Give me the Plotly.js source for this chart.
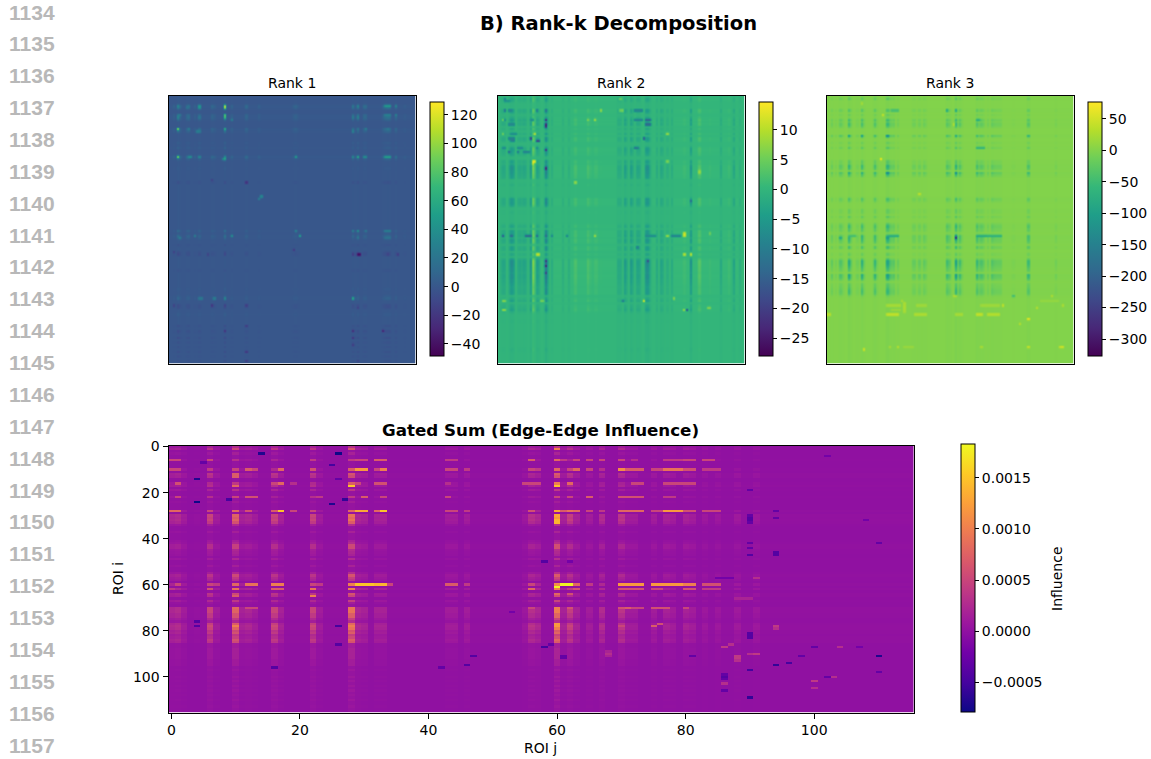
<!DOCTYPE html>
<html>
<head>
<meta charset="utf-8">
<script src="https://cdn.plot.ly/plotly-3.0.1.min.js"></script>
<style>html,body{margin:0;padding:0;background:#fff}</style>
</head>
<body>
<div id="chart" style="width:1151px;height:759px"></div>
<script>
// ---------- values ----------
const gutterLabels = ["1134","1135","1136","1137","1138","1139","1140","1141","1142","1143","1144","1145","1146","1147","1148","1149","1150","1151","1152","1153","1154","1155","1156","1157"];
const figureTitle = "B) Rank-k Decomposition";
const panelTitles = ["Rank 1","Rank 2","Rank 3"];
const gatedTitle = "Gated Sum (Edge-Edge Influence)";
const colorbarTitle = "Influence";
const matrixSize = 116;

// Stripe strengths as [index, strength]; cells as [row, firstCol, lastCol, value]
const rank1Rows = [[1,.1],[4,.9],[5,.7],[8,.6],[9,.7],[10,.35],[14,.7],[15,.4],[20,.15],[22,.2],[26,1],[27,.4],[31,.08],[37,-.15],[58,.4],[60,.45],[61,.3],[64,-.1],[67,-.15],[68,-.25],[75,-.08],[83,.1],[86,.12],[87,.3],[90,-.2],[91,-.15],[94,.12],[99,-.15],[101,-.2],[102,-.1],[104,-.2],[106,-.12],[108,-.1],[110,-.15],[112,-.1],[114,-.15]];
const rank1Cols = [[2,.15],[4,.7],[5,.3],[8,.3],[9,.4],[12,.15],[14,.4],[20,.25],[21,.15],[26,.8],[29,.2],[36,.3],[42,.15],[58,.15],[59,.2],[60,.1],[86,.5],[88,.6],[91,.3],[92,.3],[100,.2],[101,.4],[102,.5],[103,.4],[106,.35],[110,.1]];
const rank1Cells = [[4,26,26,125],[5,26,26,118],[14,4,4,115],[26,4,4,110],[8,26,26,85],[9,26,26,85],[14,26,26,70],[27,26,26,60],[27,25,25,35],[4,14,14,55],[5,14,14,50],[26,88,88,65],[26,86,86,40],[26,91,92,40],[26,101,103,55],[4,101,103,50],[4,88,88,35],[4,86,86,25],[4,106,106,35],[9,88,88,35],[9,86,86,30],[8,101,103,30],[8,106,106,32],[15,86,86,35],[14,92,92,30],[14,102,102,25],[26,59,59,55],[60,61,61,60],[58,59,59,35],[60,29,29,45],[61,5,5,30],[60,12,12,30],[87,86,86,70],[87,26,26,40],[87,21,21,35],[87,14,15,25],[58,88,88,45],[58,86,86,30],[58,92,92,25],[58,101,103,30],[61,88,88,25],[61,101,103,20],[43,43,43,45],[44,42,42,30],[26,9,10,40],[26,14,14,40],[14,9,9,30],[15,13,14,30],[9,4,4,35],[8,5,5,25],[9,14,14,25],[10,29,29,30],[5,4,4,25],[5,8,8,20],[68,88,89,-48],[68,86,86,-20],[37,36,36,-30],[90,36,36,-20],[90,20,20,-25],[90,26,26,-15],[90,2,2,-15],[101,26,26,-25],[101,86,86,-30],[101,100,100,-35],[104,86,86,-25],[107,86,86,-20],[99,36,36,-20],[110,36,36,-25],[114,36,36,-20],[68,18,18,-15],[67,2,2,-15],[66,58,58,-20],[91,88,88,-15],[68,107,107,-20],[68,102,102,-15],[36,20,20,-15],[114,88,88,-15]];

const rank2Rows = [[0,.15],[1,.35],[2,.3],[6,.6],[7,.35],[9,.3],[10,.65],[11,.45],[12,.6],[14,.35],[16,.45],[18,.6],[19,.45],[22,.5],[23,.6],[24,.5],[25,.4],[28,.55],[29,.4],[30,.7],[31,.8],[32,.7],[33,.7],[34,.6],[35,.5],[38,.2],[44,.65],[45,.6],[46,.65],[47,.4],[50,.15],[55,.2],[56,.5],[58,.6],[59,.6],[60,.7],[61,.4],[62,.7],[63,.5],[65,.55],[66,.5],[68,.4],[70,.55],[71,.9],[72,.9],[73,.85],[74,.8],[75,.8],[76,.7],[77,.8],[78,.8],[79,.7],[80,.7],[81,.6],[82,.5],[83,.55],[84,.6],[85,.55],[87,.3],[88,.55],[90,.3],[91,.4],[92,.5],[93,.25],[97,.12],[109,.15],[110,.1]];
const rank2Cols = [[1,-.2],[2,-.4],[3,-.35],[5,-.3],[6,-1],[7,-.6],[9,-.3],[10,-.4],[11,-.3],[12,-.45],[13,-.35],[15,-.9],[16,.9],[17,.3],[18,-.6],[19,-.4],[22,-1.6],[23,-.5],[25,-.25],[30,-.2],[33,-.2],[36,.35],[42,.35],[43,.15],[45,.2],[46,.2],[48,.1],[56,-.3],[57,-.3],[59,-.7],[60,-.3],[62,-.7],[63,-.35],[65,-.5],[66,-.35],[69,-.9],[70,-1],[71,-.4],[74,-.35],[76,-.45],[77,-.3],[79,-.25],[81,-.3],[87,.2],[90,-.9],[94,.5],[99,.15],[104,-.35],[108,.2],[110,-.5],[113,-.2]];
const rank2Cells = [[28,16,17,14],[29,16,16,11],[16,17,17,12],[18,15,15,-25],[19,18,19,-20],[10,22,22,-25],[12,22,22,-27],[13,22,22,-24],[23,22,22,-24],[31,22,22,-28],[71,22,22,-24],[73,22,22,-27],[76,22,22,-22],[68,18,19,12],[59,87,87,14],[60,87,87,13],[68,87,87,13],[68,90,90,13],[88,68,68,14],[45,90,90,-15],[92,88,88,-20],[92,87,87,10],[37,36,36,10],[10,45,45,10],[6,48,48,9],[60,45,45,10],[16,79,79,10],[28,79,79,8],[60,79,79,10],[87,82,82,8],[59,99,99,6],[91,98,99,7],[60,2,2,-18],[60,6,6,-16],[60,13,15,-15],[60,18,18,-15],[60,22,22,-15],[60,25,25,-10],[60,32,32,-10],[60,69,73,-8],[60,81,85,-10],[6,3,3,-13],[1,3,3,-10],[2,3,5,-7],[6,5,6,-9],[6,18,18,-12],[6,22,22,-14],[10,2,3,-8],[10,15,16,-8],[12,5,7,-9],[16,6,8,-8],[18,5,7,-10],[19,6,7,-9],[22,2,3,-8],[22,9,11,-8],[24,5,5,-15],[24,9,9,-12],[24,12,14,-10],[22,18,18,-9],[6,64,67,-10],[10,64,67,-10],[10,69,71,-15],[12,69,71,-15],[18,68,68,-18],[22,64,65,-12],[71,70,70,-20],[65,65,65,-12],[88,58,58,-12],[33,94,94,9],[32,94,94,9],[10,42,42,7],[6,57,58,6],[1,57,57,6],[88,2,3,7],[92,2,3,8],[88,20,21,6],[16,2,2,6],[10,2,2,6]];

const rank3Rows = [[0,.1],[1,.3],[6,.4],[8,.2],[10,.5],[11,.3],[12,.55],[13,.3],[17,.75],[20,.2],[22,.35],[28,.3],[29,.3],[30,.65],[31,.55],[33,.85],[34,.4],[44,.45],[45,.3],[49,.2],[50,.2],[52,.3],[55,.3],[56,.6],[57,.4],[58,.35],[60,.7],[61,.7],[62,.6],[63,.35],[65,.55],[68,.25],[70,.35],[71,.85],[72,.85],[73,.7],[74,.55],[75,.4],[77,.95],[78,.85],[79,.4],[81,.3],[82,.35],[83,.45],[84,.55],[85,.45],[86,.15]];
const rank3Cols = [[0,.08],[2,.25],[4,.1],[6,.4],[7,.15],[10,.85],[11,.3],[14,.15],[16,.75],[17,.2],[22,.65],[23,.15],[28,1],[29,.4],[30,.25],[31,.3],[33,.2],[40,.2],[41,.2],[43,.25],[45,.25],[46,.15],[56,.5],[57,.3],[60,1],[61,.2],[62,.5],[63,.15],[70,.6],[71,.25],[72,.4],[73,.2],[75,.2],[77,.35],[78,.25],[79,.2],[80,.2],[81,.2],[87,.06],[94,.6],[107,.12]];
const rank3Cells = [[61,60,60,-320],[60,60,60,-170],[61,6,6,-100],[61,28,28,-130],[60,28,33,-85],[60,70,74,-85],[60,75,81,-75],[60,10,13,-50],[60,16,16,-70],[6,30,33,-50],[6,56,56,-100],[6,60,60,-100],[10,70,71,-80],[22,70,73,-70],[17,28,28,-170],[17,10,10,-110],[17,16,16,-120],[17,94,94,-80],[33,28,28,-170],[33,60,60,-150],[94,28,33,45],[94,41,46,30],[94,60,63,25],[94,70,72,45],[94,75,80,35],[90,28,34,25],[88,35,35,25],[89,36,36,28],[90,36,36,30],[91,36,36,30],[92,36,36,28],[93,36,36,25],[96,94,94,75],[94,0,1,40],[27,25,25,75],[8,26,26,45],[42,43,43,45],[86,87,87,-60],[12,59,59,35],[109,17,17,55],[108,94,94,50],[108,109,110,50],[108,33,33,35],[108,29,29,25],[108,72,72,30],[90,82,82,45],[91,98,98,35],[86,105,105,30],[90,110,110,30],[98,90,90,35],[3,16,16,25],[86,59,59,30],[86,60,60,25],[90,42,46,20],[90,72,80,20],[92,30,34,15],[88,100,108,12],[108,36,40,15]];

const gatedRows = [[0,.35],[1,.7],[3,.2],[6,.4],[10,.5],[12,.7],[13,.6],[16,.5],[17,.6],[19,.4],[22,.35],[24,.15],[28,.8],[30,1],[31,.9],[32,1],[33,.8],[34,.3],[37,.2],[41,.2],[42,.3],[43,.6],[44,.6],[45,.3],[46,.25],[47,.2],[49,.3],[52,.2],[55,.3],[56,.7],[57,.5],[58,.4],[60,.9],[62,.9],[64,.7],[65,.6],[67,.5],[68,.15],[70,1],[71,1],[72,1],[73,.8],[74,.8],[75,.5],[76,.3],[77,.9],[78,1.1],[79,1],[80,.7],[81,.8],[82,.5],[83,.6],[84,.8],[85,.7],[86,.15],[87,.15],[88,.2],[89,.2],[90,.2],[91,.2],[92,.2],[93,.15],[94,.15],[95,.15],[97,.1],[100,.1],[102,.1],[104,.1],[106,.1],[108,.08],[110,.1],[113,.08]];
const gatedCols = [[0,.25],[1,.3],[2,.15],[4,.04],[6,.55],[7,.15],[10,.85],[11,.2],[12,.25],[13,.15],[16,.55],[17,.2],[22,.55],[23,.15],[28,1],[29,.25],[30,.2],[32,.2],[33,.2],[43,.15],[44,.15],[46,.15],[55,.1],[56,.35],[57,.25],[60,1.1],[61,.2],[62,.5],[63,.2],[65,.15],[67,.3],[70,.4],[71,.15],[72,.15],[75,.15],[77,.2],[78,.15],[80,.2],[81,.15],[83,.1],[85,.1],[88,.12],[91,.1]];
const gatedCells = [
 [28,0,1,.0008],[28,6,6,.0005],[28,10,10,.0008],[28,12,12,.0006],[28,16,16,.0007],[28,17,17,.0015],[28,19,19,.0005],[28,22,22,.0005],[28,28,28,.0008],[28,29,30,.0013],[28,32,32,.0008],[28,33,33,.0015],[28,43,44,.0005],[28,46,46,.0004],[28,56,56,.0006],[28,60,60,.0013],[28,61,61,.0007],[28,62,62,.0009],[28,63,63,.0008],[28,65,65,.0005],[28,67,67,.0004],[28,70,70,.0008],[28,71,73,.0008],[28,75,76,.0005],[28,77,79,.0012],[28,80,81,.0006],[28,83,85,.0005],
 [10,0,1,.0005],[10,6,6,.0004],[10,10,10,.0005],[10,12,12,.0007],[10,13,13,.0005],[10,17,17,.0008],[10,22,22,.0006],[10,28,28,.0007],[10,29,30,.0012],[10,32,32,.0005],[10,33,33,.0010],[10,43,44,.0005],[10,46,46,.0004],[10,56,56,.0005],[10,57,57,.0004],[10,60,60,.0008],[10,62,62,.0005],[10,63,63,.0008],[10,65,65,.0005],[10,67,67,.0003],[10,70,70,.0011],[10,71,73,.0007],[10,75,76,.0005],[10,77,79,.0009],[10,80,81,.0006],[10,83,85,.0004],
 [6,0,1,.0005],[6,6,6,.0005],[6,22,22,.0004],[6,28,28,.0004],[6,29,30,.0005],[6,32,33,.0007],[6,43,44,.0004],[6,56,56,.0007],[6,60,60,.0008],[6,61,61,.0004],[6,63,63,.0005],[6,65,65,.0005],[6,67,67,.0005],[6,70,70,.0005],[6,72,72,.0003],[6,77,79,.0004],[6,80,81,.0005],[6,83,84,.0005],
 [16,1,1,.0006],[16,16,16,.0005],[16,17,17,.0008],[16,19,19,.0003],[16,28,28,.0007],[17,28,28,.0015],[16,29,29,.0005],[16,32,33,.0006],[16,43,43,.0003],[16,55,57,.0005],[16,60,60,.0010],[16,62,62,.0008],[16,72,73,.0005],[16,77,79,.0005],[16,80,81,.0005],
 [22,1,1,.0005],[22,6,6,.0003],[22,10,10,.0005],[22,12,13,.0006],[22,22,22,.0003],[22,23,23,.0004],[22,28,28,.0004],[22,30,30,.0007],[22,33,33,.0005],[22,43,43,.0005],[22,60,60,.0005],[22,62,62,.0005],[22,65,65,.0007],[22,70,73,.0006],[22,77,78,.0004],
 [60,1,1,.0005],[60,6,6,.0005],[60,7,7,.0004],[60,10,10,.0008],[60,12,13,.0009],[60,16,17,.0010],[60,22,22,.0005],[60,23,23,.0004],[60,28,28,.0010],[60,29,31,.0015],[60,32,33,.0014],[60,34,34,.0005],[60,43,44,.0007],[60,46,46,.0004],[60,56,56,.0005],[60,60,60,.0011],[60,61,62,.0018],[61,60,60,.0018],[60,63,63,.0008],[60,65,65,.0004],[60,70,73,.0012],[60,75,79,.0012],[60,80,81,.0010],[60,83,85,.0006],
 [62,0,0,.0004],[62,6,6,.0006],[62,10,10,.0009],[62,16,17,.0007],[62,22,22,.0009],[62,28,28,.0010],[62,56,56,.0008],[62,60,60,.0010],[62,63,63,.0006],[62,70,73,.0006],[62,75,76,.0005],[62,80,81,.0006],[62,83,85,.0004],
 [65,10,10,.0007],[65,22,22,.0010],[65,28,28,.0005],[64,60,60,.0008],[64,62,62,.0006],
 [70,56,56,.0005],[70,60,60,.0010],[70,62,62,.0006],[70,70,70,.0006],[70,71,71,.0007],[70,72,73,.0005],[70,75,77,.0006],[70,80,80,.0005],[70,10,10,.0008],[70,12,12,.0005],[70,13,13,.0005],
 [78,70,70,.0005],[78,75,75,.0007],[77,76,76,.0006],[77,60,60,.0012],[78,60,60,.0012],[78,10,10,.0010],[12,10,10,.0007],[13,10,10,.0007],[17,10,10,.0008],[1,10,10,.0005],[1,60,60,.0010],[17,60,60,.0015],[30,60,60,.0013],[31,60,60,.0012],[32,60,60,.0014],[33,60,60,.0014],
 [14,4,4,-.0007],[3,14,14,-.0007],[3,26,26,-.0008],[24,4,4,-.0008],[23,9,9,-.0005],[25,25,25,-.0007],[23,27,27,-.0006],[8,25,25,-.0005],[14,26,26,-.0003],[7,5,5,-.0003],
 [76,4,4,-.0004],[78,4,4,-.0004],[78,26,26,-.0005],[86,26,26,-.0004],[96,16,16,-.0004],[96,42,42,-.0003],[91,47,47,-.0004],[95,46,46,-.0004],[87,58,58,-.0005],[72,53,53,-.0002],
 [30,90,90,-.0003],[31,90,90,-.0004],[32,90,90,-.0004],[33,90,90,-.0003],[42,90,90,-.0003],[44,90,90,-.0003],[47,90,90,-.0004],[19,90,90,-.0003],[50,58,58,-.0004],[4,102,102,-.0002],[28,94,94,-.0003],[31,94,94,-.0003],[46,94,94,-.0004],[47,94,94,-.0004],[42,110,110,-.0003],[32,108,108,-.0002],[50,62,62,-.0002],
 [86,59,59,-.0003],[91,61,61,-.0003],[92,61,61,-.0003],[81,90,90,-.0004],[82,90,90,-.0004],[83,90,90,-.0004],[57,85,87,-.0002],[95,94,94,-.0006],[94,96,96,-.0005],[97,90,90,-.0005],[109,90,90,-.0006],[91,110,110,-.0007],[91,98,98,-.0003],[91,81,81,-.0003],[99,86,86,-.0003],[100,86,86,-.0004],[101,86,86,-.0003],[100,102,102,-.0003],[87,100,100,-.0003],[98,110,110,-.0003],[87,107,107,-.0002],[106,86,86,-.0003],
 [91,88,88,.0004],[92,88,88,.0004],[93,88,88,.0003],[89,68,68,.0002],[90,68,68,.0003],[91,68,68,.0002],[90,91,91,.0004],[87,86,86,.0004],[86,87,87,.0003],[87,104,104,.0003],[103,86,86,.0003],[102,100,100,.0004],[105,100,100,.0003],[100,103,103,.0003],[78,94,94,.0004],[79,94,94,.0003],[57,91,91,.0003],[66,88,90,.0002],[90,90,90,.0003]
];

// ---------- build the matrices from the values above ----------
function strengths(pairs, rest) {
  const out = new Array(matrixSize).fill(rest);
  pairs.forEach(p => { out[p[0]] = p[1]; });
  return out;
}
function matrix(rows, cols, rowRest, colRest, scale, cells) {
  const r = strengths(rows, rowRest), c = strengths(cols, colRest), z = [];
  for (let i = 0; i < matrixSize; i++) {
    const line = [];
    for (let j = 0; j < matrixSize; j++) line.push(scale * r[i] * c[j]);
    z.push(line);
  }
  cells.forEach(t => { for (let j = t[1]; j <= t[2]; j++) z[t[0]][j] = t[3]; });
  return z;
}

// ---------- styling ----------
const W = 1151, H = 759;
const px = x => x / W, py = y => 1 - y / H;
const FONT = "DejaVu Sans, sans-serif";
const viridis = ["#440154","#482878","#3e4989","#31688e","#26828e","#1f9e89","#35b779","#6ece58","#b5de2b","#fde725"];
const plasma = ["#0d0887","#46039f","#7201a8","#9c179e","#bd3786","#d8576b","#ed7953","#fb9f3a","#fdca26","#f0f921"];
const scale = a => a.map((c, i) => [i / (a.length - 1), c]);

function bar(x, top, bottom, extra) {
  return Object.assign({
    x: px(x), xanchor: "left", xpad: 0, ypad: 0,
    y: py(bottom), yanchor: "bottom", len: bottom - top, lenmode: "pixels",
    thickness: 14, thicknessmode: "pixels", outlinewidth: 1, outlinecolor: "#000",
    ticks: "outside", ticklen: 4, tickwidth: 1, tickcolor: "#000",
    tickfont: {family: FONT, size: 14, color: "#000"}
  }, extra);
}
function heat(z, ax, cmap, zmin, zmax, cb, smooth) {
  return {type: "heatmap", z, xaxis: "x" + ax, yaxis: "y" + ax, colorscale: scale(cmap),
    zmin, zmax, zsmooth: smooth, colorbar: cb, hoverinfo: "skip"};
}
const data = [
  heat(matrix(rank1Rows, rank1Cols, .03, .03, 55, rank1Cells), "", viridis, -48.5, 129,
       bar(429.5, 102.5, 356, {tick0: 0, dtick: 20}), "best"),
  heat(matrix(rank2Rows, rank2Cols, .08, .08, 9, rank2Cells), "2", viridis, -28, 14.7,
       bar(758.5, 102.5, 356, {tick0: 0, dtick: 5}), "best"),
  heat(matrix(rank3Rows, rank3Cols, .03, .02, -125, rank3Cells), "3", viridis, -327, 77,
       bar(1087.5, 102.5, 356, {tick0: 0, dtick: 50}), "best"),
  heat(matrix(gatedRows, gatedCols, .05, .02, .0009, gatedCells), "4", plasma, -.00079, .00183,
       bar(960.5, 444.5, 712, {tick0: 0, dtick: .0005, tickformat: ".4f"}), false)
];
function axis(a, b, horizontal, shown) {
  const e = shown ? .45 : .3;
  return {domain: horizontal ? [px(a), px(b)] : [py(b), py(a)],
    showgrid: false, zeroline: false, showline: true, mirror: true, linecolor: "#000", linewidth: 1,
    range: horizontal ? [-e, 115 + e] : [115 + e, -e],
    ticks: shown ? "outside" : "", showticklabels: shown, ticklen: 5, tickwidth: 1, tickcolor: "#000",
    tick0: 0, dtick: 20, tickfont: {family: FONT, size: 14, color: "#000"}};
}
const layout = {
  width: W, height: H, autosize: false, margin: {l: 0, r: 0, t: 0, b: 0},
  paper_bgcolor: "#fff", plot_bgcolor: "#fff", showlegend: false,
  xaxis: Object.assign(axis(168.5, 415.5, true, false), {anchor: "y"}),
  yaxis: Object.assign(axis(95.5, 363.5, false, false), {anchor: "x"}),
  xaxis2: Object.assign(axis(497.5, 744.5, true, false), {anchor: "y2"}),
  yaxis2: Object.assign(axis(95.5, 363.5, false, false), {anchor: "x2"}),
  xaxis3: Object.assign(axis(826.5, 1073.5, true, false), {anchor: "y3"}),
  yaxis3: Object.assign(axis(95.5, 363.5, false, false), {anchor: "x3"}),
  xaxis4: Object.assign(axis(168.5, 913.5, true, true), {anchor: "y4"}),
  yaxis4: Object.assign(axis(445.5, 712.5, false, true), {anchor: "x4"}),
  annotations: []
};
function label(text, x, y, size, opts) {
  layout.annotations.push(Object.assign({
    text, x: px(x), y: py(y), xref: "paper", yref: "paper", showarrow: false,
    xanchor: "center", yanchor: "middle",
    font: {family: FONT, size, color: "#000"}
  }, opts || {}));
}
gutterLabels.forEach((t, i) => label(t, 7, 12 + i * 31.87, 21, {
  xanchor: "left", font: {family: "Liberation Sans, Arial, sans-serif", size: 21, color: "#b8b8b8", weight: 700}
}));
label("<b>" + figureTitle + "</b>", 619, 23.5, 19.5);
panelTitles.forEach((t, i) => label(t, 292 + i * 329, 83, 14));
label("<b>" + gatedTitle + "</b>", 540, 430, 16.7);
label("ROI j", 540.5, 748, 14);
label("ROI i", 118, 579, 14, {textangle: -90});
label(colorbarTitle, 1057, 579, 14, {textangle: -90});

Plotly.newPlot("chart", data, layout, {displayModeBar: false, staticPlot: true});
</script>
</body>
</html>
